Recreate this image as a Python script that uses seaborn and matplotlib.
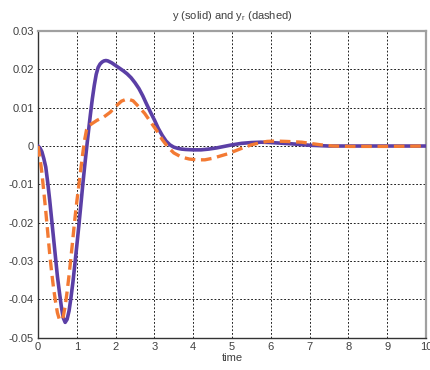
import matplotlib
matplotlib.use("Agg")
import matplotlib.pyplot as plt
import seaborn as sns
import pandas as pd

# ---- data ----
t_solid = [0, 0.05, 0.1, 0.15, 0.2, 0.25, 0.3, 0.35, 0.4, 0.45, 0.5, 0.55, 0.6, 0.65, 0.7,
           0.75, 0.8, 0.85, 0.9, 0.95, 1.0, 1.05, 1.1, 1.15, 1.2, 1.25, 1.3, 1.35, 1.4,
           1.45, 1.5, 1.55, 1.6, 1.65, 1.7, 1.75, 1.8, 1.9, 2.0, 2.1, 2.2, 2.3, 2.4, 2.5,
           2.6, 2.7, 2.8, 2.9, 3.0, 3.1, 3.2, 3.3, 3.4, 3.5, 3.6, 3.7, 3.8, 4.0, 4.2, 4.4,
           4.6, 4.8, 5.0, 5.25, 5.5, 5.75, 6.0, 6.5, 7.0, 7.5, 8.0, 9.0, 10.0]
y_solid = [0, -0.0005, -0.0015, -0.0033, -0.0055, -0.0095, -0.014, -0.019, -0.024, -0.029,
           -0.034, -0.038, -0.0418, -0.0448, -0.046, -0.0452, -0.043, -0.0395, -0.0355,
           -0.0308, -0.026, -0.021, -0.0158, -0.0105, -0.0055, -0.0008, 0.0038, 0.0082,
           0.0123, 0.0158, 0.0187, 0.0205, 0.0214, 0.0219, 0.0222, 0.0223, 0.0222, 0.0217,
           0.021, 0.0203, 0.0196, 0.0188, 0.0178, 0.0165, 0.015, 0.0131, 0.0109, 0.0088,
           0.0068, 0.0046, 0.0028, 0.0013, 0.0003, -0.0003, -0.0006, -0.0008, -0.0009,
           -0.001, -0.001, -0.0008, -0.0005, -0.0001, 0.0003, 0.0007, 0.0009, 0.001, 0.0009,
           0.0006, 0.0002, 0.0, 0.0, 0.0, 0.0]

t_dashed = [0, 0.05, 0.1, 0.15, 0.2, 0.25, 0.3, 0.35, 0.4, 0.45, 0.5, 0.55, 0.6, 0.65,
            0.7, 0.75, 0.8, 0.85, 0.9, 0.95, 1.0, 1.05, 1.1, 1.15, 1.2, 1.25, 1.3, 1.4,
            1.52, 1.7, 1.86, 2.0, 2.15, 2.3, 2.45, 2.6, 2.75, 2.9, 3.06, 3.2, 3.35, 3.5,
            3.7, 3.9, 4.1, 4.3, 4.5, 4.7, 4.9, 5.1, 5.3, 5.5, 5.7, 5.9, 6.1, 6.4, 6.8,
            7.0, 7.3, 7.6, 8.0, 9.0, 10.0]
y_dashed = [0, -0.003, -0.007, -0.012, -0.017, -0.0225, -0.028, -0.0328, -0.037, -0.0405,
            -0.0435, -0.0452, -0.0455, -0.0445, -0.0418, -0.038, -0.0337, -0.029, -0.024,
            -0.019, -0.0145, -0.0105, -0.0063, -0.0022, 0.0015, 0.0042, 0.0052, 0.0059,
            0.0067, 0.0076, 0.0088, 0.0103, 0.0117, 0.0123, 0.0118, 0.0102, 0.0085, 0.0063,
            0.004, 0.0017, -0.0003, -0.0018, -0.0029, -0.0034, -0.0036, -0.0036, -0.0032,
            -0.0026, -0.002, -0.0012, -0.0004, 0.0003, 0.0008, 0.0012, 0.0013, 0.0012,
            0.001, 0.0007, 0.0003, 0.0, -0.0001, -0.0001, 0.0]

x_ticks = [0, 1, 2, 3, 4, 5, 6, 7, 8, 9, 10]
x_tick_labels = ["0", "1", "2", "3", "4", "5", "6", "7", "8", "9", "10"]
y_ticks = [-0.05, -0.04, -0.03, -0.02, -0.01, 0, 0.01, 0.02, 0.03]
y_tick_labels = ["-0.05", "-0.04", "-0.03", "-0.02", "-0.01", "0", "0.01", "0.02", "0.03"]
title_text = "y (solid) and y$_{\\mathregular{r}}$ (dashed)"
x_label = "time"

sns.set_style("white")
plt.rcParams["font.family"] = ["Liberation Sans", "DejaVu Sans"]
plt.rcParams["mathtext.fontset"] = "custom"
plt.rcParams["mathtext.rm"] = "Liberation Sans"

fig = plt.figure(figsize=(4.3, 3.7), dpi=100)
ax = fig.add_axes([0.0884, 0.0873, 0.9023, 0.8289])

df_s = pd.DataFrame({"t": t_solid, "y": y_solid})
df_d = pd.DataFrame({"t": t_dashed, "y": y_dashed})

sns.lineplot(data=df_s, x="t", y="y", ax=ax, color="#5b3fa6", lw=2.6,
             solid_capstyle="round", solid_joinstyle="round", zorder=3)
sns.lineplot(data=df_d, x="t", y="y", ax=ax, color="#f37a33", lw=2.4,
             dashes=False, zorder=4)
ax.lines[-1].set_dashes((3.2, 1.7))

ax.set_xlim(0, 10)
ax.set_ylim(-0.05, 0.03)
ax.set_xticks(x_ticks)
ax.set_xticklabels(x_tick_labels)
ax.set_yticks(y_ticks)
ax.set_yticklabels(y_tick_labels)

ax.grid(True, color="black", linestyle=(0, (2.2, 2.2)), linewidth=0.6)
ax.set_axisbelow(True)

ax.tick_params(axis="both", direction="in", length=4, width=0.8, colors="#333333",
               labelsize=8, labelcolor="#404040", pad=3)
for side in ["left", "bottom"]:
    ax.spines[side].set_color("#333333")
    ax.spines[side].set_linewidth(1.0)
for side in ["top", "right"]:
    ax.spines[side].set_color("#a0a0a0")
    ax.spines[side].set_linewidth(1.6)

ax.set_title(title_text, fontsize=8, color="#404040", pad=9)
ax.set_xlabel(x_label, fontsize=8, color="#404040", labelpad=1)
ax.set_ylabel("")

fig.savefig("out.png", dpi=100, facecolor="white")
